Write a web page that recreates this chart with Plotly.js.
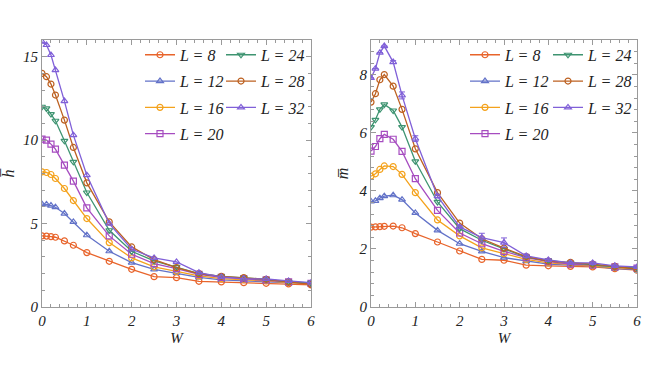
<!DOCTYPE html>
<html>
<head>
<meta charset="utf-8">
<script src="https://cdn.plot.ly/plotly-3.0.1.min.js"></script>
<style>
  html, body { margin: 0; padding: 0; background: #fff; }
  #chart { width: 654px; height: 368px; }
</style>
</head>
<body>
<div id="chart"></div>
<script>
const wValues = [0, 0.1, 0.2, 0.3, 0.5, 0.7, 1, 1.5, 2, 2.5, 3, 3.5, 4, 4.5, 5, 5.5, 6];

const sizes = [8, 12, 16, 20, 24, 28, 32];

// left panel: h bar
const hBar = {
  8:  [4.26, 4.25, 4.22, 4.18, 3.96, 3.70, 3.26, 2.74, 2.26, 1.82, 1.76, 1.54, 1.50, 1.46, 1.42, 1.38, 1.32],
  12: [6.16, 6.15, 6.08, 5.98, 5.60, 5.10, 4.30, 3.34, 2.66, 2.26, 2.04, 1.78, 1.62, 1.56, 1.52, 1.42, 1.40],
  16: [8.10, 8.06, 7.94, 7.70, 7.10, 6.38, 5.30, 3.86, 2.94, 2.40, 2.14, 1.86, 1.70, 1.64, 1.56, 1.46, 1.40],
  20: [10.06, 10.0, 9.76, 9.46, 8.50, 7.54, 5.94, 4.26, 3.16, 2.60, 2.30, 1.96, 1.78, 1.70, 1.62, 1.50, 1.42],
  24: [12.0, 11.9, 11.56, 11.16, 9.96, 8.70, 6.86, 4.60, 3.34, 2.76, 2.40, 2.00, 1.84, 1.74, 1.66, 1.50, 1.44],
  28: [14.0, 13.8, 13.36, 12.7, 11.2, 9.56, 7.44, 5.10, 3.60, 2.84, 2.36, 2.00, 1.84, 1.76, 1.66, 1.50, 1.36],
  32: [15.9, 15.7, 15.1, 14.2, 12.34, 10.3, 7.90, 5.00, 3.46, 2.94, 2.70, 2.06, 1.80, 1.70, 1.68, 1.56, 1.46]
};

// right panel: m bar
const mBar = {
  8:  [2.75, 2.76, 2.77, 2.78, 2.79, 2.73, 2.53, 2.24, 1.93, 1.64, 1.61, 1.44, 1.42, 1.40, 1.38, 1.32, 1.27],
  12: [3.64, 3.66, 3.75, 3.82, 3.85, 3.70, 3.24, 2.64, 2.18, 1.92, 1.70, 1.58, 1.48, 1.44, 1.42, 1.32, 1.30],
  16: [4.51, 4.59, 4.74, 4.86, 4.84, 4.57, 3.94, 3.00, 2.45, 2.04, 1.84, 1.64, 1.52, 1.46, 1.42, 1.36, 1.32],
  20: [5.37, 5.53, 5.80, 5.95, 5.78, 5.36, 4.42, 3.33, 2.55, 2.18, 1.92, 1.70, 1.56, 1.48, 1.44, 1.38, 1.34],
  24: [6.20, 6.45, 6.81, 6.98, 6.77, 6.20, 5.02, 3.62, 2.70, 2.30, 2.00, 1.72, 1.60, 1.52, 1.46, 1.38, 1.34],
  28: [7.06, 7.35, 7.83, 8.01, 7.61, 6.81, 5.45, 3.94, 2.89, 2.35, 2.03, 1.74, 1.58, 1.54, 1.48, 1.40, 1.30],
  32: [7.89, 8.21, 8.76, 8.99, 8.44, 7.29, 5.80, 3.82, 2.76, 2.39, 2.22, 1.76, 1.62, 1.52, 1.52, 1.42, 1.38]
};

const mBar32Err = [0, 0, 0, 0, 0.05, 0.12, 0.1, 0.06, 0.05, 0.15, 0.16, 0.06, 0.04, 0.03, 0.03, 0.03, 0.03];

const colors = {
  8: "#e8642b", 12: "#6272c8", 16: "#f4a21c", 20: "#a64cc0",
  24: "#3e9471", 28: "#bd6121", 32: "#8060d8"
};
const symbols = {
  8: "circle-open", 12: "triangle-up-open", 16: "circle-open", 20: "square-open",
  24: "triangle-down-open", 28: "circle-open", 32: "triangle-up-open"
};

const serif = "Liberation Serif, DejaVu Serif, serif";

function makeTrace(L, ys, axis, legendA, legendB, err) {
  const t = {
    type: "scatter",
    mode: "lines+markers",
    x: wValues,
    y: ys,
    name: "L = " + L,
    xaxis: axis === 1 ? "x" : "x2",
    yaxis: axis === 1 ? "y" : "y2",
    legend: L <= 20 ? legendA : legendB,
    legendgroup: axis + "-" + L,
    line: { color: colors[L], width: 1.3 },
    marker: { symbol: symbols[L], size: 6, color: colors[L], line: { color: colors[L], width: 1.2 } }
  };
  if (err) {
    t.error_y = { type: "data", array: err, visible: true, color: colors[L], thickness: 1, width: 3 };
  }
  return t;
}

const traces = [];
sizes.forEach((L) => traces.push(makeTrace(L, hBar[L], 1, "legend", "legend2")));
sizes.forEach((L) => traces.push(makeTrace(L, mBar[L], 2, "legend3", "legend4", L === 32 ? mBar32Err : null)));

const W = 654;
const px = (v) => v / W;

function xAxis(domain, anchor) {
  return {
    domain: domain,
    anchor: anchor,
    range: [0, 6],
    dtick: 1,
    ticks: "inside",
    ticklen: 5,
    tickcolor: "#9a9a9a",
    showline: true,
    linecolor: "#9a9a9a",
    linewidth: 1,
    mirror: "ticks",
    showgrid: false,
    zeroline: false,
    tickfont: { family: serif, size: 15, style: "italic", color: "#222" },
    minor: { dtick: 0.2, ticks: "inside", ticklen: 3, tickcolor: "#9a9a9a", showgrid: false },
    title: { text: "W", font: { family: serif, size: 15, style: "italic", color: "#222" }, standoff: 4 }
  };
}

function yAxis(range, dtick, minor, anchor, title) {
  return {
    domain: [0, 1],
    anchor: anchor,
    range: range,
    dtick: dtick,
    ticks: "inside",
    ticklen: 5,
    tickcolor: "#9a9a9a",
    showline: true,
    linecolor: "#9a9a9a",
    linewidth: 1,
    mirror: "ticks",
    showgrid: false,
    zeroline: false,
    tickfont: { family: serif, size: 15, style: "italic", color: "#222" },
    minor: { dtick: minor, ticks: "inside", ticklen: 3, tickcolor: "#9a9a9a", showgrid: false },
    title: { text: title, font: { family: serif, size: 16, style: "italic", color: "#222" }, standoff: 6 }
  };
}

function legendAt(xPx) {
  return {
    x: px(xPx),
    y: 1.008,
    xanchor: "left",
    yanchor: "top",
    bgcolor: "rgba(0,0,0,0)",
    borderwidth: 0,
    tracegroupgap: 2.5,
    itemwidth: 30,
    font: { family: serif, size: 16, style: "italic", color: "#222" }
  };
}

const layout = {
  width: 654,
  height: 368,
  margin: { l: 0, r: 0, t: 40, b: 61 },
  paper_bgcolor: "#ffffff",
  plot_bgcolor: "#ffffff",
  showlegend: true,
  xaxis: xAxis([px(42), px(311)], "y"),
  yaxis: yAxis([0, 16], 5, 1, "x", "h\u0305"),
  xaxis2: xAxis([px(371), px(637)], "y2"),
  yaxis2: yAxis([0, 9.2], 2, 0.4, "x2", "m\u0305"),
  legend: legendAt(140),
  legend2: legendAt(221),
  legend3: legendAt(465),
  legend4: legendAt(548)
};

Plotly.newPlot("chart", traces, layout, { displayModeBar: false, staticPlot: true });
</script>
</body>
</html>
